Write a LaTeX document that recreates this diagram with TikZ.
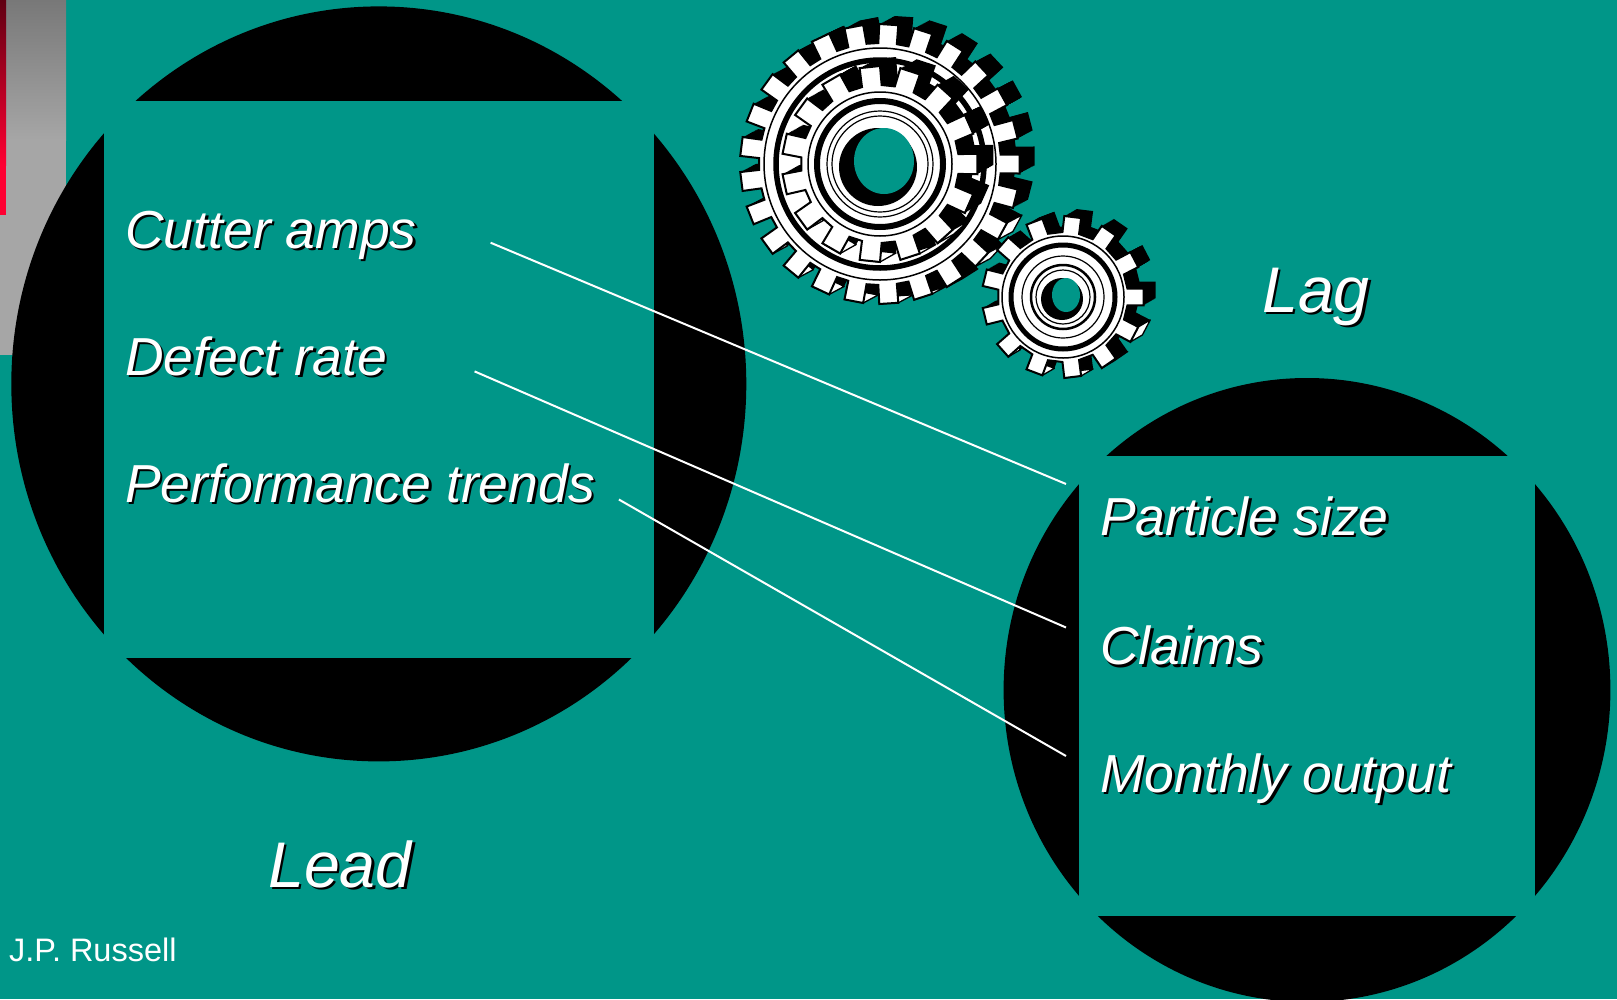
\documentclass[tikz,border=0pt]{standalone}
\usepackage{fontspec}
\setmainfont{Liberation Sans}
\definecolor{bgteal}{RGB}{0,150,136}
\definecolor{barGreyA}{RGB}{120,120,120}
\definecolor{barGreyB}{RGB}{166,166,166}
\definecolor{barRedA}{RGB}{96,0,18}
\definecolor{barRedB}{RGB}{255,0,50}
% gear outline: #1 teeth, #2 outer radius, #3 root radius, #4 half angle at tip, #5 half angle at root
\newcommand\gearpath[5]{({#5}:#3) \foreach \gi in {1,...,#1}{ -- ({\gi*360/#1-#5}:#3) -- ({\gi*360/#1-#4}:#2) -- ({\gi*360/#1+#4}:#2) -- ({\gi*360/#1+#5}:#3) } -- cycle}
% lit tip faces of extruded teeth (upper teeth only): #1 teeth, #2 outer radius, #3 half angle, #4 dx, #5 dy
\newcommand\gearfaces[5]{\foreach \gi in {1,...,#1}{%
  \pgfmathtruncatemacro\gvis{sin(\gi*360/#1)>0.42 ? 1 : 0}%
  \ifnum\gvis=1
  \filldraw[fill=white, draw=black, line width=1.3pt, line join=round] ({\gi*360/#1-#3}:#2) -- ({\gi*360/#1+#3}:#2) -- ([shift={(#4,#5)}]{\gi*360/#1+#3}:#2) -- ([shift={(#4,#5)}]{\gi*360/#1-#3}:#2) -- cycle;
  \fi}}
\tikzset{
  lbl/.style={anchor=base west, inner sep=0pt, text=white, font=\itshape\fontsize{53.5}{60}\selectfont},
  lblsh/.style={lbl, text=black},
  biglbl/.style={anchor=base west, inner sep=0pt, text=white, font=\itshape\fontsize{64.5}{70}\selectfont},
  biglblsh/.style={biglbl, text=black},
  link/.style={draw=white, line width=2pt},
  gearbody/.style={fill=white, draw=black, line width=2pt, line join=miter},
}
\begin{document}
\begin{tikzpicture}[x=1pt,y=-1pt]
\useasboundingbox (0,0) rectangle (1617,999);
\clip (0,0) rectangle (1617,999);
\fill[bgteal] (0,0) rectangle (1617,999);
% side bars
\shade[top color=barGreyA, bottom color=barGreyB] (0,0) rectangle (66,140);
\fill[barGreyB] (0,139.5) rectangle (66,355);
\shade[top color=barRedA, bottom color=barRedB] (0,0) rectangle (6,165);
\fill[barRedB] (0,164.5) rectangle (6,215);
% left disc with square
\fill[black] (378.8,383.9) ellipse[x radius=367.5pt, y radius=377.5pt];
\fill[bgteal] (103.6,100.7) rectangle (654.4,658.1);
% right disc with square
\fill[black] (1307,690) ellipse[x radius=303.4pt, y radius=312pt];
\fill[bgteal] (1079.4,456) rectangle (1534.5,915.5);
% connectors
\coordinate (l1a) at (490.6,242.7);
\coordinate (l1b) at (1066,484);
\coordinate (l2a) at (474.6,371.4);
\coordinate (l2b) at (1066,627.5);
\coordinate (l3a) at (618.9,499.5);
\coordinate (l3b) at (1066,756);
\draw[link] (l1a) -- (l1b);
\draw[link] (l2a) -- (l2b);
\draw[link] (l3a) -- (l3b);
% big gear
\begin{scope}[shift={(880,164)}]
  \foreach \k in {0,1,...,14} {
    \fill[black, shift={({\k*15/14},{-\k*8/14})}] \gearpath{25}{140}{121}{3.9}{4.4};
  }
  \gearfaces{25}{140}{3.9}{15}{-8}
  \path[gearbody] \gearpath{25}{140}{121}{3.9}{4.4};
  \draw[black, line width=1.5pt] (0,0) circle[radius=116pt];
  \draw[black, line width=5.5pt] (0,0) circle[radius=104pt];
  \foreach \k in {0,1,...,14} {
    \fill[black, shift={({\k*16/14},{-\k*9/14})}] \gearpath{15}{98}{79}{6.0}{7.2};
  }
  \gearfaces{15}{98}{6.0}{16}{-9}
  \path[gearbody] \gearpath{15}{98}{79}{6.0}{7.2};
  \draw[black, line width=1.5pt] (0,0) circle[radius=72pt];
  \draw[black, line width=6pt] (0,0) circle[radius=63pt];
  \draw[black, line width=1.2pt] (0,0) circle[radius=53pt];
  \draw[black, line width=1.2pt] (0,0) circle[radius=48pt];
  \fill[black] (-2,3) circle[radius=39pt];
  \fill[bgteal] (4,-3) ellipse[x radius=30pt, y radius=33pt];
\end{scope}
% small gear
\begin{scope}[shift={(1063,297)}]
  \foreach \k in {0,1,...,12} {
    \fill[black, shift={({\k*12/12},{-\k*7/12})}] \gearpath{13}{81}{65}{6.0}{7.4};
  }
  \gearfaces{13}{81}{6.0}{12}{-7}
  \path[gearbody] \gearpath{13}{81}{65}{6.0}{7.4};
  \draw[black, line width=1.5pt] (0,0) circle[radius=61pt];
  \draw[black, line width=5pt] (0,0) circle[radius=52pt];
  \draw[black, line width=1.2pt] (0,0) circle[radius=41pt];
  \draw[black, line width=2.5pt] (0,0) circle[radius=32pt];
  \draw[black, line width=1.2pt] (0,0) circle[radius=27pt];
  \fill[black] (-1,2) circle[radius=21pt];
  \fill[bgteal] (3,-2) ellipse[x radius=14pt, y radius=17pt];
\end{scope}
% left labels
\node[lblsh] (cutsh) at (127.5,250.5) {Cutter amps};
\node[lbl] (cut) at (125,248) {Cutter amps};
\node[lblsh] (defsh) at (127.5,377.5) {Defect rate};
\node[lbl] (def) at (125,375) {Defect rate};
\node[lblsh] (perfsh) at (127.5,504.5) {Performance trends};
\node[lbl] (perf) at (125,502) {Performance trends};
% right labels
\node[lblsh] (partsh) at (1102.5,537.5) {Particle size};
\node[lbl] (part) at (1100,535) {Particle size};
\node[lblsh] (claimsh) at (1102.5,667) {Claims};
\node[lbl] (claim) at (1100,664.5) {Claims};
\node[lblsh] (monsh) at (1102.5,794.5) {Monthly output};
\node[lbl] (mon) at (1100,792) {Monthly output};
% titles
\node[biglblsh] (lagsh) at (1264.5,314.5) {Lag};
\node[biglbl] (lag) at (1262,312) {Lag};
\node[biglblsh] (leadsh) at (270.5,889.5) {Lead};
\node[biglbl] (lead) at (268,887) {Lead};
% author
\node[anchor=base west, inner sep=0pt, text=white, font=\fontsize{32.5}{38}\selectfont] (author) at (9,961) {J.P. Russell};
\end{tikzpicture}
\end{document}
